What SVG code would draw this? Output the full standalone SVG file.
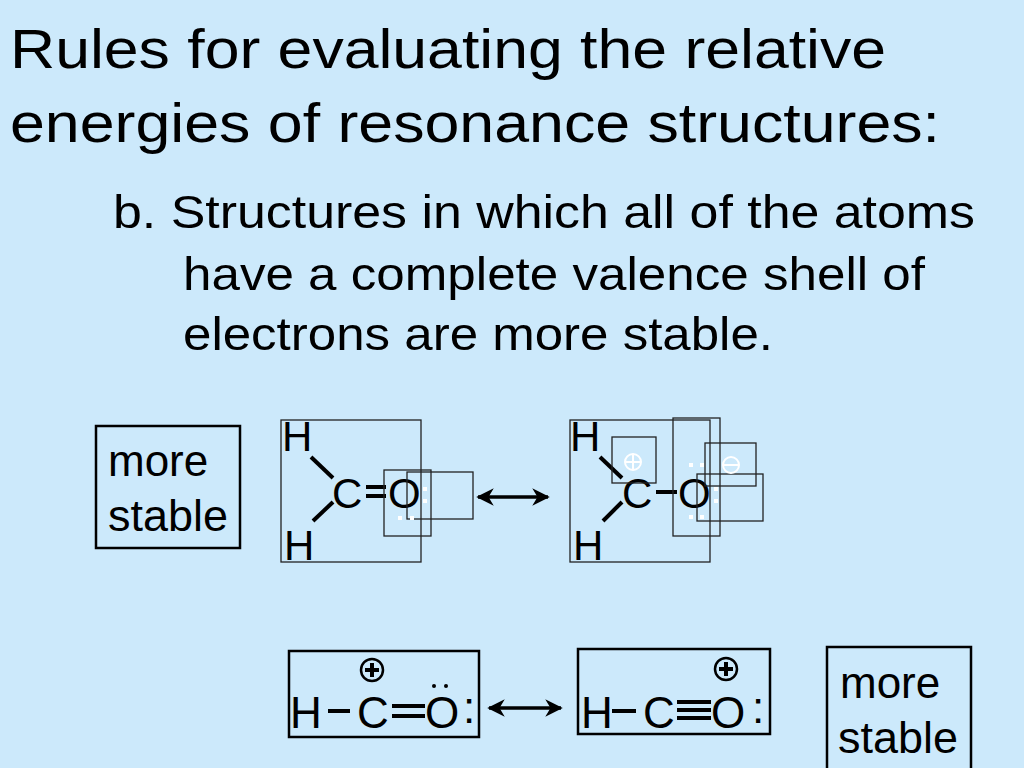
<svg xmlns="http://www.w3.org/2000/svg" width="1024" height="768" viewBox="0 0 1024 768">
<style>
text{font-family:"Liberation Sans",Arial,sans-serif;fill:#000}
.t{font-size:56px}.b{font-size:46px}.m{font-size:44px}.a{font-size:42px}.l{font-size:44px}
.bx{fill:none;stroke:#000;stroke-width:2.5}.tb{fill:none;stroke:#222;stroke-width:1.3}
.bd{stroke:#000;stroke-width:4}.w{fill:#fff}.ws{fill:none;stroke:#fff;stroke-width:2}
</style>
<defs><marker id="ah" viewBox="0 0 10 10" refX="9" refY="5" markerWidth="5" markerHeight="5" orient="auto-start-reverse"><path d="M0,0L10,5L0,10L3,5z" fill="#000"/></marker></defs>
<rect width="1024" height="768" fill="#CCE9FB"/>
<text class="t" x="10" y="68" textLength="876" lengthAdjust="spacingAndGlyphs">Rules for evaluating the relative</text>
<text class="t" x="10" y="142" textLength="930" lengthAdjust="spacingAndGlyphs">energies of resonance structures:</text>
<text class="b" x="113" y="228" textLength="862" lengthAdjust="spacingAndGlyphs">b.  Structures in which all of the atoms</text>
<text class="b" x="183" y="290" textLength="742" lengthAdjust="spacingAndGlyphs">have a complete valence shell of</text>
<text class="b" x="183" y="350" textLength="590" lengthAdjust="spacingAndGlyphs">electrons are more stable.</text>
<g id="label1"><rect class="bx" x="96" y="426" width="144" height="122"/><text class="m" x="108" y="476">more</text><text class="m" x="108" y="531" textLength="120" lengthAdjust="spacingAndGlyphs">stable</text></g>
<g id="mol1">
<rect class="tb" x="281" y="420" width="140" height="142"/>
<text class="a" x="282" y="451">H</text><text class="a" x="284" y="560">H</text>
<line class="bd" x1="311" y1="457" x2="333" y2="478"/><line class="bd" x1="313" y1="521" x2="333" y2="502"/>
<text class="a" x="332" y="508">C</text>
<line class="bd" x1="366" y1="487" x2="386" y2="487" stroke-width="3"/><line class="bd" x1="366" y1="496" x2="386" y2="496" stroke-width="3"/>
<text class="a" x="388" y="508">O</text>
<rect class="tb" x="384" y="470" width="47" height="66"/><rect class="tb" x="407" y="472" width="66" height="47"/>
<rect class="w" x="423" y="487" width="4" height="4"/><rect class="w" x="423" y="499" width="4" height="4"/>
<rect class="w" x="398" y="516" width="4" height="4"/><rect class="w" x="410" y="516" width="4" height="4"/>
</g>
<g id="mol2">
<rect class="tb" x="570" y="420" width="140" height="142"/>
<text class="a" x="570" y="451">H</text><text class="a" x="573" y="560">H</text>
<line class="bd" x1="600" y1="457" x2="622" y2="478"/><line class="bd" x1="603" y1="521" x2="622" y2="502"/>
<text class="a" x="622" y="508">C</text>
<line class="bd" x1="656" y1="492" x2="677" y2="492"/>
<text class="a" x="678" y="508">O</text>
<rect class="tb" x="612" y="437" width="44" height="46"/><rect class="tb" x="673" y="418" width="47" height="118"/>
<rect class="tb" x="705" y="443" width="51" height="43"/><rect class="tb" x="697" y="474" width="66" height="47"/>
<circle class="ws" cx="633" cy="462" r="8"/><line class="ws" x1="625" y1="462" x2="641" y2="462"/><line class="ws" x1="633" y1="454" x2="633" y2="470"/>
<circle class="ws" cx="731" cy="465" r="8"/><line class="ws" x1="723" y1="465" x2="739" y2="465"/>
<rect class="w" x="689" y="463" width="4" height="4"/><rect class="w" x="700" y="463" width="4" height="4"/>
<rect class="w" x="714" y="487" width="4" height="4"/><rect class="w" x="714" y="499" width="4" height="4"/>
<rect class="w" x="689" y="515" width="4" height="4"/><rect class="w" x="700" y="515" width="4" height="4"/>
</g>
<g id="mol3">
<rect class="bx" x="289" y="651" width="190" height="86"/>
<text class="l" x="290" y="728">H</text><line class="bd" x1="328" y1="711" x2="350" y2="711" stroke-width="3"/>
<text class="l" x="357" y="728">C</text>
<line class="bd" x1="392" y1="706" x2="425" y2="706" stroke-width="3"/><line class="bd" x1="392" y1="716" x2="425" y2="716" stroke-width="3"/>
<text class="l" x="425" y="728">O</text><text class="l" x="463" y="723">:</text>
<circle cx="434" cy="686" r="2" fill="#000"/><circle cx="446" cy="686" r="2" fill="#000"/>
<circle cx="372" cy="670" r="11" fill="none" stroke="#000" stroke-width="2.5"/><line class="bd" x1="365" y1="670" x2="379" y2="670" stroke-width="3"/><line class="bd" x1="372" y1="663" x2="372" y2="677" stroke-width="3"/>
</g>
<g id="mol4">
<rect class="bx" x="578" y="649" width="192" height="85"/>
<text class="l" x="581" y="728">H</text><line class="bd" x1="612" y1="711" x2="636" y2="711" stroke-width="3"/>
<text class="l" x="643" y="728">C</text>
<line class="bd" x1="677" y1="702" x2="711" y2="702" stroke-width="3"/><line class="bd" x1="677" y1="710" x2="711" y2="710" stroke-width="3"/><line class="bd" x1="677" y1="718" x2="711" y2="718" stroke-width="3"/>
<text class="l" x="711" y="728">O</text><text class="l" x="752" y="723">:</text>
<circle cx="726" cy="669" r="11" fill="none" stroke="#000" stroke-width="2.5"/><line class="bd" x1="719" y1="669" x2="733" y2="669" stroke-width="3"/><line class="bd" x1="726" y1="662" x2="726" y2="676" stroke-width="3"/>
</g>
<g id="label2"><rect class="bx" x="827" y="647" width="144" height="130"/><text class="m" x="840" y="698">more</text><text class="m" x="838" y="753" textLength="120" lengthAdjust="spacingAndGlyphs">stable</text></g>
<g id="connectors">
<line x1="478" y1="497" x2="548" y2="497" stroke="#000" stroke-width="3.5" marker-start="url(#ah)" marker-end="url(#ah)"/>
<line x1="489" y1="708" x2="561" y2="708" stroke="#000" stroke-width="3.5" marker-start="url(#ah)" marker-end="url(#ah)"/>
</g>
</svg>
